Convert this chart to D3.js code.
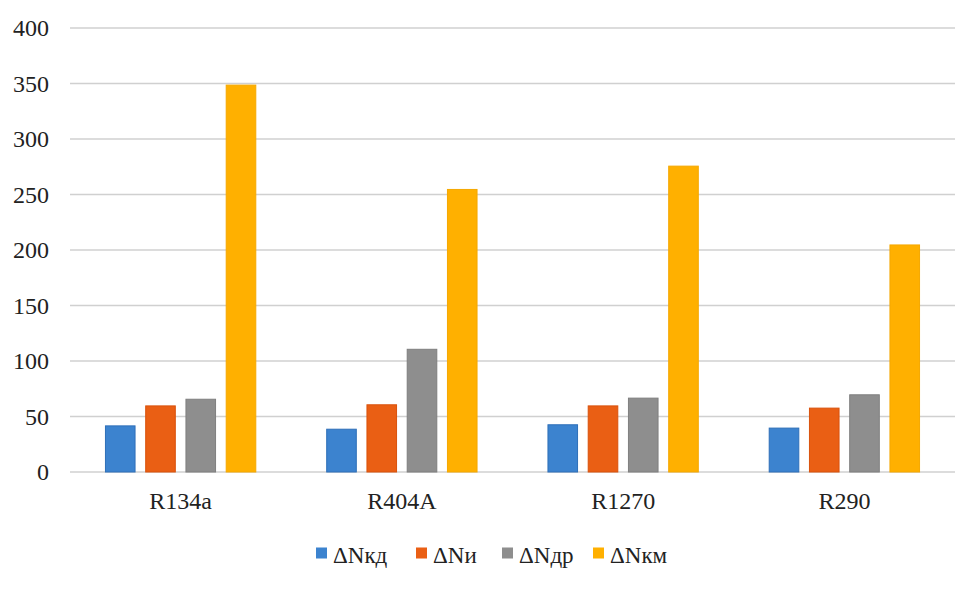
<!DOCTYPE html>
<html><head><meta charset="utf-8">
<script src="https://cdn.jsdelivr.net/npm/d3@7"></script>
<style>body{margin:0;background:#fff}svg{display:block}
text{font-family:"Liberation Serif","Times New Roman",serif}</style>
</head><body>
<svg id="c" width="980" height="591"></svg>
<script>
const categories = ["R134a","R404A","R1270","R290"];
const seriesNames = ["ΔNкд","ΔNи","ΔNдр","ΔNкм"];
const seriesColors = ["#3c83cf","#ea5f14","#8e8e8e","#ffb000"];
const strokeColors = ["#2e6fb8","#d9520c","#7f7f7f","#f5a800"];
const kd = [42, 39, 43, 40];
const ni = [60, 61, 60, 58];
const dr = [66, 111, 67, 70];
const km = [349, 255, 276, 205];
const yTicks = [0,50,100,150,200,250,300,350,400];

const values = [kd, ni, dr, km];
const svg = d3.select("#c");
const L = 70, R = 955, T = 28, B = 472;
const x0 = d3.scaleBand().domain(categories).range([L, R]).paddingInner(0.316).paddingOuter(0.158);
const x1 = d3.scaleBand().domain(seriesNames).range([0, x0.bandwidth()]).paddingInner(0.24);
const y = d3.scaleLinear().domain([0, 400]).range([B, T]);
const font = '"Liberation Serif", "Times New Roman", serif';

svg.append("g").selectAll("line").data(yTicks).join("line")
  .attr("x1", L).attr("x2", R)
  .attr("y1", d => y(d)).attr("y2", d => y(d))
  .attr("stroke", "#d0d0d0").attr("stroke-width", 1.5);

const yAxis = d3.axisLeft(y).tickValues(yTicks).tickSize(0).tickPadding(0);
const ya = svg.append("g").attr("transform", `translate(${L-21},0)`).call(yAxis);
ya.attr("font-family", null).attr("font-size", null);
ya.select(".domain").remove();
ya.selectAll("text").style("font-family", font).style("font-size", "24px").attr("fill", "#222").attr("dy", "0.33em");

const groups = svg.append("g").selectAll("g").data(categories).join("g")
  .attr("transform", d => `translate(${x0(d)},0)`);
groups.selectAll("rect").data((c, ci) => seriesNames.map((s, si) => ({s, si, v: values[si][ci]})))
  .join("rect")
  .attr("x", d => x1(d.s) + 0.5)
  .attr("width", x1.bandwidth() - 1)
  .attr("y", d => y(d.v) + 0.5)
  .attr("height", d => y(0) - y(d.v) - 0.5)
  .attr("fill", d => seriesColors[d.si])
  .attr("stroke", d => strokeColors[d.si]).attr("stroke-width", 1);

const xAxis = d3.axisBottom(x0).tickSize(0).tickPadding(0);
const xa = svg.append("g").attr("transform", `translate(0,${B})`).call(xAxis);
xa.attr("font-family", null).attr("font-size", null);
xa.select(".domain").remove();
xa.selectAll("text").style("font-family", font).style("font-size", "24px").attr("fill", "#222")
  .attr("y", 37).attr("dy", null);

const legX = [316, 416, 502, 593];
const leg = svg.append("g").selectAll("g").data(seriesNames).join("g")
  .attr("transform", (d, i) => `translate(${legX[i]},553)`);
leg.append("rect").attr("x", 0).attr("y", -5.5).attr("width", 11).attr("height", 11)
  .attr("fill", (d, i) => seriesColors[i]);
leg.append("text").attr("x", 17).attr("y", 10)
  .style("font-family", font).style("font-size", "23px").attr("fill", "#222").text(d => d);
</script>
</body></html>
